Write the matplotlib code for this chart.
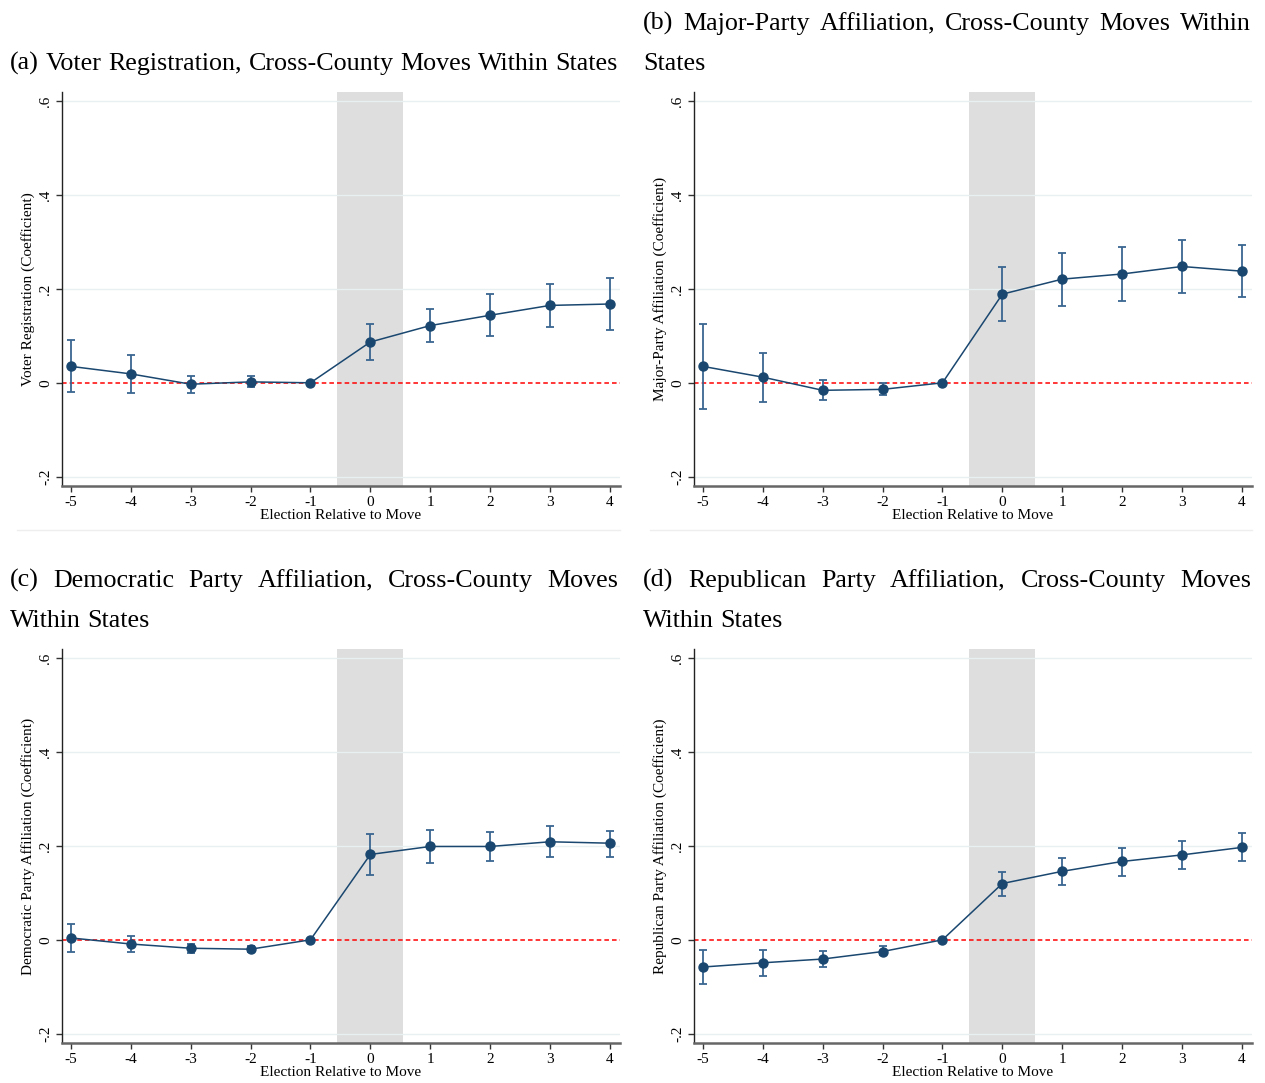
import matplotlib.pyplot as plt
from matplotlib.lines import Line2D

plt.rcParams['font.family'] = ['Liberation Serif', 'DejaVu Serif']

# Event time relative to the move
periods = [-5, -4, -3, -2, -1, 0, 1, 2, 3, 4]

# (a) voter registration
reg_coef = [0.035, 0.019, -0.003, 0.002, 0.0, 0.087, 0.122, 0.144, 0.165, 0.168]
reg_lo = [-0.020, -0.021, -0.021, -0.010, 0.0, 0.048, 0.086, 0.100, 0.120, 0.112]
reg_hi = [0.092, 0.059, 0.015, 0.015, 0.0, 0.126, 0.158, 0.189, 0.211, 0.223]

# (b) major-party affiliation
maj_coef = [0.035, 0.012, -0.016, -0.014, 0.0, 0.189, 0.221, 0.232, 0.248, 0.238]
maj_lo = [-0.055, -0.041, -0.037, -0.026, 0.0, 0.132, 0.164, 0.175, 0.191, 0.184]
maj_hi = [0.125, 0.063, 0.006, 0.000, 0.0, 0.246, 0.277, 0.290, 0.305, 0.294]

# (c) democratic party affiliation
dem_coef = [0.004, -0.009, -0.018, -0.020, 0.0, 0.182, 0.199, 0.199, 0.209, 0.206]
dem_lo = [-0.025, -0.026, -0.028, -0.025, 0.0, 0.139, 0.163, 0.168, 0.176, 0.177]
dem_hi = [0.033, 0.009, -0.009, -0.014, 0.0, 0.225, 0.235, 0.230, 0.243, 0.233]

# (d) republican party affiliation
rep_coef = [-0.058, -0.049, -0.041, -0.025, 0.0, 0.120, 0.146, 0.167, 0.181, 0.197]
rep_lo = [-0.095, -0.077, -0.059, -0.033, 0.0, 0.094, 0.117, 0.137, 0.152, 0.169]
rep_hi = [-0.022, -0.021, -0.023, -0.014, 0.0, 0.144, 0.174, 0.196, 0.211, 0.227]

y_ticks = [-0.2, 0, 0.2, 0.4, 0.6]
y_tick_labels = ['-.2', '0', '.2', '.4', '.6']

panels = [
    (['(a)', 'Voter', 'Registration,', 'Cross-County', 'Moves', 'Within', 'States'], [],
     'Voter Registration (Coefficient)', reg_coef, reg_lo, reg_hi),
    (['(b)', 'Major-Party', 'Affiliation,', 'Cross-County', 'Moves', 'Within'], ['States'],
     'Major-Party Affiliation (Coefficient)', maj_coef, maj_lo, maj_hi),
    (['(c)', 'Democratic', 'Party', 'Affiliation,', 'Cross-County', 'Moves'], ['Within', 'States'],
     'Democratic Party Affiliation (Coefficient)', dem_coef, dem_lo, dem_hi),
    (['(d)', 'Republican', 'Party', 'Affiliation,', 'Cross-County', 'Moves'], ['Within', 'States'],
     'Republican Party Affiliation (Coefficient)', rep_coef, rep_lo, rep_hi),
]

W, H = 1265, 1083
fig = plt.figure(figsize=(W / 100, H / 100), dpi=100)
renderer = fig.canvas.get_renderer()

navy = '#1a476f'
title_size = 18.7
label_size = 11

# pixel layout: (axes left, axes top, text left, title baselines)
boxes = [
    (62, 92, 10, [70]),
    (694, 92, 643, [30, 70]),
    (62, 649, 10, [587, 627]),
    (694, 649, 643, [587, 627]),
]
ax_w, ax_h = 558, 394


def text_width(s):
    t = fig.text(0, 0, s, fontsize=title_size)
    w = t.get_window_extent(renderer).width
    t.remove()
    return w


space_w = text_width('a a') - text_width('aa')


def place_words(words, x0, x1, y_px, justify):
    """Lay out words on one line, spreading them to fill x0..x1 if justify."""
    texts = [fig.text(0, 1 - y_px / H, w, fontsize=title_size, va='baseline', ha='left')
             for w in words]
    widths = [t.get_window_extent(renderer).width for t in texts]
    if justify and len(words) > 1:
        gap = (x1 - x0 - sum(widths)) / (len(words) - 1)
    else:
        gap = space_w
    x = x0
    for t, w in zip(texts, widths):
        t.set_x(x / W)
        x += w + gap


for (line1, line2, ylabel, coef, lo, hi), (left, top, tx, baselines) in zip(panels, boxes):
    ax = fig.add_axes([left / W, 1 - (top + ax_h) / H, ax_w / W, ax_h / H])

    ax.axvspan(-0.55, 0.55, color='#dedede', lw=0, zorder=0)
    for yv in [-0.2, 0.2, 0.4, 0.6]:
        ax.axhline(yv, color='#e8f0f1', lw=1, zorder=0.5)
    ax.axhline(0, color='red', lw=1.1, ls=(0, (3, 2)), zorder=1)

    err = [[c - l for c, l in zip(coef, lo)], [h - c for c, h in zip(coef, hi)]]
    ax.errorbar(periods, coef, yerr=err, fmt='none', ecolor='#3a6690', elinewidth=1.3,
                capsize=3, capthick=1.3, zorder=2)
    ax.plot(periods, coef, color=navy, lw=1.1, marker='o', markersize=6.5,
            markerfacecolor=navy, markeredgecolor=navy, zorder=3)

    ax.set_xlim(-5.15, 4.17)
    ax.set_ylim(-0.22, 0.62)
    ax.set_xticks(periods)
    ax.set_xticklabels([str(p) for p in periods])
    ax.set_yticks(y_ticks)
    ax.set_yticklabels(y_tick_labels, rotation=90, va='center')

    for side in ['top', 'right']:
        ax.spines[side].set_visible(False)
    ax.spines['left'].set_color('#222222')
    ax.spines['left'].set_linewidth(1.0)
    ax.spines['bottom'].set_color('#666666')
    ax.spines['bottom'].set_linewidth(1.8)
    ax.tick_params(axis='both', direction='out', length=4, width=1, color='#333333',
                   labelsize=label_size, pad=3)
    ax.set_xlabel('Election Relative to Move', fontsize=label_size, labelpad=0)
    ax.set_ylabel(ylabel, fontsize=label_size, labelpad=3)

    place_words(line1, tx, tx + 608, baselines[0], justify=True)
    if line2:
        place_words(line2, tx, tx + 608, baselines[1], justify=False)

# faint outline under the upper panels
for x0, x1 in [(17, 620), (650, 1252)]:
    fig.add_artist(Line2D([x0 / W, x1 / W], [1 - 530 / H, 1 - 530 / H],
                          transform=fig.transFigure, color='#eeeeee', lw=1))

fig.savefig('out.png', dpi=100)
